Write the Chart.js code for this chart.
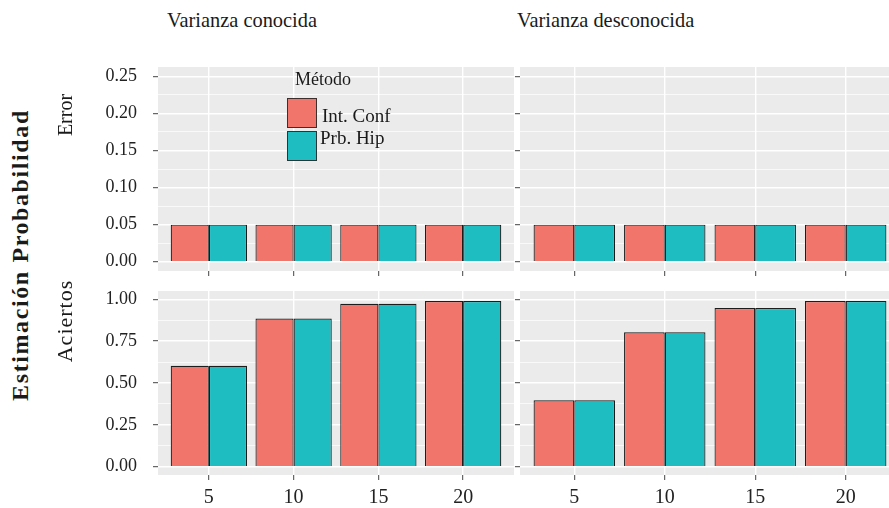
<!DOCTYPE html>
<html>
<head>
<meta charset="utf-8">
<script src="https://cdn.jsdelivr.net/npm/chart.js@4.4.1/dist/chart.umd.min.js"></script>
<style>
  body { margin: 0; background: #fff; overflow: hidden; font-family: "Liberation Serif", "Times New Roman", serif; color: #1a1a1a; }
  #wrap { position: relative; width: 889px; height: 508px; overflow: hidden; background: #fff; }
  canvas { position: absolute; }
  .txt { position: absolute; white-space: nowrap; line-height: 1; }
  .rot { position: absolute; white-space: nowrap; line-height: 1; transform: translate(-50%, -50%) rotate(-90deg); }
  .key { position: absolute; width: 28px; height: 28px; border: 1.5px solid rgba(40, 40, 40, 0.9); }
</style>
</head>
<body>
<div id="wrap">
  <canvas id="errConocida"></canvas>
  <canvas id="errDesconocida"></canvas>
  <canvas id="acConocida"></canvas>
  <canvas id="acDesconocida"></canvas>

  <div class="txt" style="left:167px; top:10px; font-size:20.4px;">Varianza conocida</div>
  <div class="txt" style="left:517px; top:10px; font-size:20.4px;">Varianza desconocida</div>

  <div class="rot" style="left:20px; top:255px; font-size:24px; font-weight:bold; letter-spacing:1.6px;">Estimación Probabilidad</div>
  <div class="rot" style="left:65px; top:115px; font-size:20px;">Error</div>
  <div class="rot" style="left:65px; top:321px; font-size:22px; letter-spacing:1px;">Aciertos</div>

  <div class="txt" style="left:295px; top:70px; font-size:18px;">Método</div>
  <div class="key" id="key0" style="left:287px; top:98px;"></div>
  <div class="key" id="key1" style="left:287px; top:131px;"></div>
  <div class="txt" id="lab0" style="left:322px; top:106px; font-size:19px;"></div>
  <div class="txt" id="lab1" style="left:320px; top:128px; font-size:19px;"></div>
</div>

<script>
// tamaños de muestra (eje x)
var sizes = ["5", "10", "15", "20"];
var seriesNames = ["Int. Conf", "Prb. Hip"];
var seriesColors = ["#F1756B", "#1EBDC2"];

// fila "Error"
var errorConocidaIC = [0.05, 0.05, 0.05, 0.05];
var errorConocidaPH = [0.05, 0.05, 0.05, 0.05];
var errorDesconocidaIC = [0.05, 0.05, 0.05, 0.05];
var errorDesconocidaPH = [0.05, 0.05, 0.05, 0.05];

// fila "Aciertos"
var aciertosConocidaIC = [0.603, 0.886, 0.974, 0.99];
var aciertosConocidaPH = [0.603, 0.886, 0.974, 0.99];
var aciertosDesconocidaIC = [0.397, 0.803, 0.948, 0.99];
var aciertosDesconocidaPH = [0.397, 0.803, 0.948, 0.99];

// ticks
var errorTicks = [0, 0.05, 0.1, 0.15, 0.2, 0.25];
var errorMinor = [0.025, 0.075, 0.125, 0.175, 0.225];
var aciertosTicks = [0, 0.25, 0.5, 0.75, 1];
var aciertosMinor = [0.125, 0.375, 0.625, 0.875];

var PAD_TOP = 12;

Chart.defaults.font.family = '"Liberation Serif", "Times New Roman", serif';
Chart.defaults.color = "#222";

var panelBackground = {
  id: "panelBackground",
  beforeDraw: function (chart) {
    var a = chart.chartArea;
    var ctx = chart.ctx;
    ctx.save();
    ctx.fillStyle = "#EBEBEB";
    ctx.fillRect(a.left, a.top, a.right - a.left, a.bottom - a.top);
    ctx.restore();
  },
};

function isIn(list, v) {
  return list.some(function (m) { return Math.abs(m - v) < 1e-9; });
}

function zeroPad(s) {
  s.paddingTop = 0;
  s.paddingBottom = 0;
  s.paddingLeft = 0;
  s.paddingRight = 0;
}

function toPoints(values) {
  return values.map(function (v, i) { return { x: i, y: v }; });
}

function makePanel(id, cfg) {
  var canvas = document.getElementById(id);
  var w = cfg.yAxisW + cfg.panelW;
  var h = PAD_TOP + cfg.panelH + cfg.xAxisH;
  canvas.width = w;
  canvas.height = h;
  canvas.style.left = (cfg.left - cfg.yAxisW) + "px";
  canvas.style.top = (cfg.top - PAD_TOP) + "px";
  canvas.style.width = w + "px";
  canvas.style.height = h + "px";

  var yValues = cfg.major.concat(cfg.minor).sort(function (a, b) { return a - b; });

  function barSet(i, values) {
    return {
      label: seriesNames[i],
      data: toPoints(values),
      backgroundColor: seriesColors[i],
      borderColor: "#1c1c1c",
      borderWidth: 1.2,
      categoryPercentage: 0.9,
      barPercentage: 1,
    };
  }

  return new Chart(canvas.getContext("2d"), {
    type: "bar",
    data: { datasets: [barSet(0, cfg.ic), barSet(1, cfg.ph)] },
    options: {
      responsive: false,
      animation: false,
      layout: { padding: { top: PAD_TOP, left: 0, right: 0, bottom: 0 } },
      plugins: { legend: { display: false }, tooltip: { enabled: false } },
      scales: {
        x: {
          type: "linear",
          offset: false,
          min: -0.6,
          max: sizes.length - 0.4,
          afterBuildTicks: function (s) {
            s.ticks = sizes.map(function (_, i) { return { value: i }; });
          },
          afterFit: function (s) {
            s.height = cfg.xAxisH;
            zeroPad(s);
          },
          grid: { offset: false, color: "#ffffff", lineWidth: 1.4, tickLength: 5, tickColor: "#444", tickWidth: 1 },
          border: { display: false },
          ticks: {
            display: cfg.xLabels,
            autoSkip: false,
            maxRotation: 0,
            padding: 6,
            font: { size: 20 },
            callback: function (v) { return sizes[v]; },
          },
        },
        y: {
          type: "linear",
          min: cfg.yMin,
          max: cfg.yMax,
          afterBuildTicks: function (s) {
            s.ticks = yValues.map(function (v) { return { value: v }; });
          },
          afterFit: function (s) {
            s.width = cfg.yAxisW;
            zeroPad(s);
          },
          grid: {
            color: "#ffffff",
            lineWidth: function (c) { return c.tick && isIn(cfg.major, c.tick.value) ? 1.4 : 0.7; },
            tickLength: 5,
            tickWidth: 1,
            tickColor: function (c) { return c.tick && isIn(cfg.major, c.tick.value) ? "#444" : "rgba(0,0,0,0)"; },
          },
          border: { display: false },
          ticks: {
            display: cfg.yLabels,
            autoSkip: false,
            padding: 16,
            font: { size: 18 },
            callback: function (v) { return isIn(cfg.major, v) ? v.toFixed(2) : ""; },
          },
        },
      },
    },
    plugins: [panelBackground],
  });
}

makePanel("errConocida", {
  left: 158, top: 67, panelW: 356, panelH: 204, yAxisW: 98, xAxisH: 5,
  yMin: -0.0125, yMax: 0.2625, major: errorTicks, minor: errorMinor,
  yLabels: true, xLabels: false, ic: errorConocidaIC, ph: errorConocidaPH,
});
makePanel("errDesconocida", {
  left: 520, top: 67, panelW: 380, panelH: 204, yAxisW: 5, xAxisH: 5,
  yMin: -0.0125, yMax: 0.2625, major: errorTicks, minor: errorMinor,
  yLabels: false, xLabels: false, ic: errorDesconocidaIC, ph: errorDesconocidaPH,
});
makePanel("acConocida", {
  left: 158, top: 291, panelW: 356, panelH: 184, yAxisW: 98, xAxisH: 35,
  yMin: -0.05, yMax: 1.05, major: aciertosTicks, minor: aciertosMinor,
  yLabels: true, xLabels: true, ic: aciertosConocidaIC, ph: aciertosConocidaPH,
});
makePanel("acDesconocida", {
  left: 520, top: 291, panelW: 380, panelH: 184, yAxisW: 5, xAxisH: 35,
  yMin: -0.05, yMax: 1.05, major: aciertosTicks, minor: aciertosMinor,
  yLabels: false, xLabels: true, ic: aciertosDesconocidaIC, ph: aciertosDesconocidaPH,
});

// leyenda
document.getElementById("key0").style.background = seriesColors[0];
document.getElementById("key1").style.background = seriesColors[1];
document.getElementById("lab0").textContent = seriesNames[0];
document.getElementById("lab1").textContent = seriesNames[1];
</script>
</body>
</html>
